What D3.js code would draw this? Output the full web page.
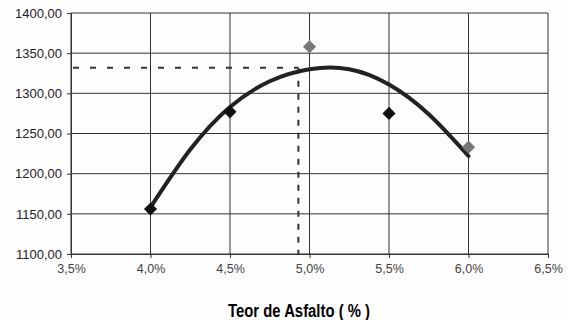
<!DOCTYPE html>
<html><head><meta charset="utf-8">
<script src="https://cdn.jsdelivr.net/npm/d3@7"></script>
<style>body{margin:0;background:#fdfdfd}svg{display:block}</style>
</head><body>
<svg id="c" width="568" height="320"></svg>
<script>
const xTicks = [3.5, 4.0, 4.5, 5.0, 5.5, 6.0, 6.5];
const yTicks = [1100, 1150, 1200, 1250, 1300, 1350, 1400];
const teor = [4.0, 4.5, 5.0, 5.5, 6.0];
const densidade = [1156, 1277, 1358, 1275, 1233];
const markerColor = ["#111", "#111", "#777", "#111", "#777"];
const curveX = [4.0, 4.25, 4.5, 4.75, 5.0, 5.25, 5.5, 5.75, 6.0];
const curveY = [1158, 1230, 1283, 1315, 1330, 1330, 1311, 1274, 1222];
const optX = 4.93, optY = 1332;
const xTitle = "Teor de Asfalto ( % )";

const svg = d3.select("#c");
const m = {l: 71, r: 548, t: 13, b: 254};
const x = d3.scaleLinear().domain([3.5, 6.5]).range([m.l, m.r]);
const y = d3.scaleLinear().domain([1100, 1400]).range([m.b, m.t]);
const fmtY = v => d3.format(".2f")(v).replace(".", ",");
const fmtX = v => d3.format(".1f")(v).replace(".", ",") + "%";

// grid
svg.append("g").selectAll("line").data(xTicks).join("line")
  .attr("x1", d => x(d)).attr("x2", d => x(d)).attr("y1", m.t).attr("y2", m.b)
  .attr("stroke", "#333").attr("stroke-width", 1);
svg.append("g").selectAll("line").data(yTicks).join("line")
  .attr("x1", m.l).attr("x2", m.r).attr("y1", d => y(d)).attr("y2", d => y(d))
  .attr("stroke", "#333").attr("stroke-width", 1);

// axes
const gx = svg.append("g").attr("transform", `translate(0,${m.b})`)
  .call(d3.axisBottom(x).tickValues(xTicks).tickFormat(fmtX).tickSize(4).tickPadding(6));
const gy = svg.append("g").attr("transform", `translate(${m.l},0)`)
  .call(d3.axisLeft(y).tickValues(yTicks).tickFormat(fmtY).tickSize(4).tickPadding(5));
[gx, gy].forEach(g => {
  g.select(".domain").attr("stroke", "#333");
  g.selectAll(".tick line").attr("stroke", "#333");
  g.selectAll("text").attr("font-family", "Liberation Sans, Arial, sans-serif")
    .attr("font-size", 13).attr("fill", "#222");
});
gx.selectAll("text").attr("fill", "#444").attr("font-size", 12.5);

// dashed reference lines
svg.append("line").attr("x1", x(3.5) + 2).attr("x2", x(optX)).attr("y1", y(optY)).attr("y2", y(optY))
  .attr("stroke", "#333").attr("stroke-width", 2).attr("stroke-dasharray", "6,11");
svg.append("line").attr("x1", x(optX)).attr("x2", x(optX)).attr("y1", y(optY)).attr("y2", y(1100))
  .attr("stroke", "#333").attr("stroke-width", 2).attr("stroke-dasharray", "6,7");

// trend curve
const pts = curveX.map((d, i) => [d, curveY[i]]);
svg.append("path").datum(pts)
  .attr("d", d3.line().x(d => x(d[0])).y(d => y(d[1])).curve(d3.curveNatural))
  .attr("fill", "none").attr("stroke", "#222").attr("stroke-width", 4).attr("stroke-linecap", "round");

// markers
svg.append("g").selectAll("path").data(teor).join("path")
  .attr("d", d3.symbol(d3.symbolDiamond2, 110))
  .attr("transform", (d, i) => `translate(${x(d)},${y(densidade[i])})`)
  .attr("fill", (d, i) => markerColor[i]);

// title
svg.append("text").attr("x", 299).attr("y", 317).attr("text-anchor", "middle")
  .attr("font-family", "Liberation Sans, Arial, sans-serif").attr("font-weight", "bold")
  .attr("font-size", 18).attr("fill", "#000")
  .attr("textLength", 142).attr("lengthAdjust", "spacingAndGlyphs")
  .text(xTitle);
</script>
</body></html>
